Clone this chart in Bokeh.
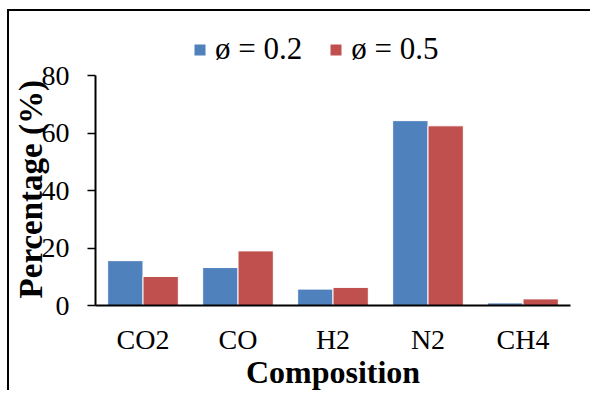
from bokeh.plotting import figure
from bokeh.models import (ColumnDataSource, FactorRange, Range1d, FixedTicker,
                          Legend, LegendItem, Spacer)
from bokeh.layouts import column, row
from bokeh.transform import dodge
from bokeh.embed import file_html
from bokeh.resources import INLINE

# ---- data ----
categories = ["CO2", "CO", "H2", "N2", "CH4"]
phi_02 = [15.6, 13.2, 5.7, 64.3, 0.9]
phi_05 = [10.1, 19.0, 6.3, 62.5, 2.3]
series_labels = ["\u00f8 = 0.2", "\u00f8 = 0.5"]
y_ticks = [0, 20, 40, 60, 80]
x_title = "Composition"
y_title = "Percentage (%)"

BLUE = "#4F81BD"
RED = "#C0504D"
FONT = "Liberation Serif"

# layout (pixels inside the canvas)
FRAME_TOP = 12          # frame extends above the 80 tick to hold the legend
AXIS_TOP = 64           # where the value 80 sits
FRAME_BOTTOM = 294
y_max_axis = 80
y_top = y_max_axis * (FRAME_BOTTOM - FRAME_TOP) / (FRAME_BOTTOM - AXIS_TOP)

source = ColumnDataSource(dict(cat=categories, a=phi_02, b=phi_05))

p = figure(width=583, height=381, output_backend="svg", toolbar_location=None,
           x_range=FactorRange(factors=categories, range_padding=0),
           y_range=Range1d(0, y_top))
p.min_border_left = 86
p.min_border_right = 22
p.min_border_top = FRAME_TOP
p.min_border_bottom = 381 - FRAME_BOTTOM
p.outline_line_color = None
p.xgrid.grid_line_color = None
p.ygrid.grid_line_color = None
p.background_fill_color = "white"
p.border_fill_color = "white"
p.styles = {"border-left": "2px solid black", "border-top": "2px solid black"}

w = 0.372
r1 = p.vbar(x=dodge("cat", -w / 2, range=p.x_range), top="a", width=w,
            source=source, fill_color=BLUE, line_color="white", line_width=1)
r2 = p.vbar(x=dodge("cat", w / 2, range=p.x_range), top="b", width=w,
            source=source, fill_color=RED, line_color="white", line_width=1)

# axes
for ax in (p.xaxis[0], p.yaxis[0]):
    ax.axis_line_color = "black"
    ax.axis_line_width = 2
    ax.major_label_text_font = FONT
    ax.major_label_text_font_size = "28px"
    ax.major_label_text_color = "black"
    ax.minor_tick_line_color = None
    ax.axis_label_text_font = FONT
    ax.axis_label_text_font_style = "bold"
    ax.axis_label_text_color = "black"

p.xaxis.major_tick_line_color = None
p.xaxis.major_label_standoff = 12
p.xaxis.axis_label = x_title
p.xaxis.axis_label_text_font_size = "32px"
p.xaxis.axis_label_standoff = -4

p.yaxis.ticker = FixedTicker(ticks=y_ticks)
p.yaxis.bounds = (0, y_max_axis)
p.yaxis.major_tick_in = 0
p.yaxis.major_tick_out = 8
p.yaxis.major_tick_line_width = 1.5
p.yaxis.major_tick_line_color = "black"
p.yaxis.major_label_standoff = 18
p.yaxis.axis_label = y_title + "\u00a0" * 6
p.yaxis.axis_label_text_font_size = "33px"
p.yaxis.axis_label_standoff = -10

legend = Legend(items=[LegendItem(label=series_labels[0], renderers=[r1]),
                       LegendItem(label=series_labels[1], renderers=[r2])],
                orientation="horizontal", location=(97, 238))
legend.label_text_font = FONT
legend.label_text_font_size = "31px"
legend.label_text_color = "black"
legend.glyph_width = 15
legend.glyph_height = 15
legend.label_standoff = 8
legend.spacing = 26
legend.padding = 0
legend.margin = 0
legend.border_line_color = None
legend.background_fill_alpha = 0
p.add_layout(legend, "center")

layout = column(Spacer(height=9, width=590), row(Spacer(width=7, height=381), p))
open("out.html", "w").write(file_html(layout, INLINE))
